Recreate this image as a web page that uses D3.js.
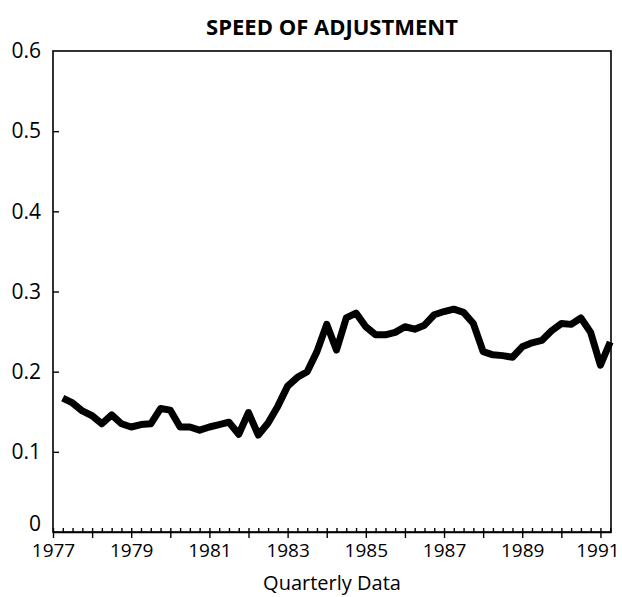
<!DOCTYPE html>
<html>
<head>
<meta charset="utf-8">
<script src="https://cdn.jsdelivr.net/npm/d3@7"></script>
<style>
  body { margin: 0; background: #fff; }
  text { font-family: "Open Sans", sans-serif; fill: #000; }
</style>
</head>
<body>
<div id="container"></div>
<script>
/* CONSTANTS AND GLOBALS */
const width = 622,
  height = 597,
  margin = { top: 51, bottom: 65, left: 53, right: 11 };

/* DATA - quarterly, 1977Q1 .. 1991Q1 (plotted at quarter end) */
const startYear = 1977.25;
const speed = [
  0.167, 0.161, 0.151, 0.145, 0.135, 0.146, 0.135, 0.131, 0.134, 0.135,
  0.154, 0.152, 0.131, 0.131, 0.127, 0.131, 0.134, 0.137, 0.122, 0.149,
  0.121, 0.136, 0.157, 0.182, 0.193, 0.200, 0.225, 0.259, 0.227, 0.267,
  0.273, 0.256, 0.246, 0.246, 0.249, 0.256, 0.253, 0.258, 0.271, 0.275,
  0.278, 0.274, 0.260, 0.225, 0.221, 0.220, 0.218, 0.231, 0.236, 0.239,
  0.251, 0.260, 0.259, 0.267, 0.249, 0.208, 0.237
];
const yTicks = [0, 0.1, 0.2, 0.3, 0.4, 0.5, 0.6];
const yearLabels = [1977, 1979, 1981, 1983, 1985, 1987, 1989, 1991];
const years = d3.range(1977, 1992);
const quarters = d3.range(1977, 1991.3, 0.25);

const data = speed.map((v, i) => ({ t: startYear + i * 0.25, v: v }));

// SCALES
const xScale = d3.scaleLinear()
  .domain([1977, 1991.27])
  .range([margin.left, width - margin.right]);

const yScale = d3.scaleLinear()
  .domain([0, 0.6])
  .range([height - margin.bottom, margin.top]);

// CREATE SVG ELEMENT
const svg = d3.select("#container")
  .append("svg")
  .attr("width", width)
  .attr("height", height);

// TITLE
svg.append("text")
  .attr("x", (margin.left + width - margin.right) / 2)
  .attr("y", 35)
  .attr("text-anchor", "middle")
  .attr("font-size", 22)
  .attr("font-weight", "bold")
  .text("SPEED OF ADJUSTMENT");

// FRAME
svg.append("rect")
  .attr("x", margin.left)
  .attr("y", margin.top)
  .attr("width", width - margin.left - margin.right)
  .attr("height", height - margin.top - margin.bottom)
  .attr("fill", "none")
  .attr("stroke", "#000")
  .attr("stroke-width", 1.6);

// X AXIS: quarter ticks pointing in
svg.append("g")
  .attr("transform", `translate(0, ${height - margin.bottom})`)
  .call(d3.axisBottom(xScale).tickValues(quarters).tickSizeInner(-4).tickSizeOuter(0).tickFormat(""))
  .call(g => g.select(".domain").remove())
  .call(g => g.selectAll(".tick line").attr("stroke-width", 1.4));

// X AXIS: year ticks crossing below, labels every second year
svg.append("g")
  .attr("transform", `translate(0, ${height - margin.bottom})`)
  .call(d3.axisBottom(xScale).tickValues(years).tickSizeInner(6).tickSizeOuter(0).tickPadding(6)
    .tickFormat(d => yearLabels.includes(d) ? d : ""))
  .call(g => g.select(".domain").attr("stroke-width", 1.6))
  .call(g => g.selectAll(".tick line").attr("stroke-width", 1.4))
  .call(g => g.selectAll(".tick text").attr("font-size", 19).attr("font-family", "Open Sans")
    .attr("dx", d => d === 1991 ? -3 : 0));

// Y AXIS
svg.append("g")
  .attr("transform", `translate(${margin.left}, 0)`)
  .call(d3.axisLeft(yScale).tickValues(yTicks).tickSizeInner(-6).tickSizeOuter(0).tickPadding(12)
    .tickFormat(d => d === 0 ? "0" : d3.format(".1f")(d)))
  .call(g => g.select(".domain").remove())
  .call(g => g.selectAll(".tick line").attr("stroke-width", 1.4)
    .attr("display", d => (d === 0 || d === 0.6) ? "none" : null))
  .call(g => g.selectAll(".tick text").attr("font-size", 21).attr("font-family", "Open Sans")
    .attr("dy", d => d === 0 ? "-0.05em" : "0.32em"));

// X LABEL
svg.append("text")
  .attr("x", (margin.left + width - margin.right) / 2)
  .attr("y", 590)
  .attr("text-anchor", "middle")
  .attr("font-size", 20)
  .text("Quarterly Data");

// LINE GENERATOR
const lineGen = d3.line()
  .x(d => xScale(d.t))
  .y(d => yScale(d.v));

// DRAW LINE
svg.append("path")
  .datum(data)
  .attr("d", lineGen)
  .attr("fill", "none")
  .attr("stroke", "#000")
  .attr("stroke-width", 7)
  .attr("stroke-linejoin", "round");
</script>
</body>
</html>
